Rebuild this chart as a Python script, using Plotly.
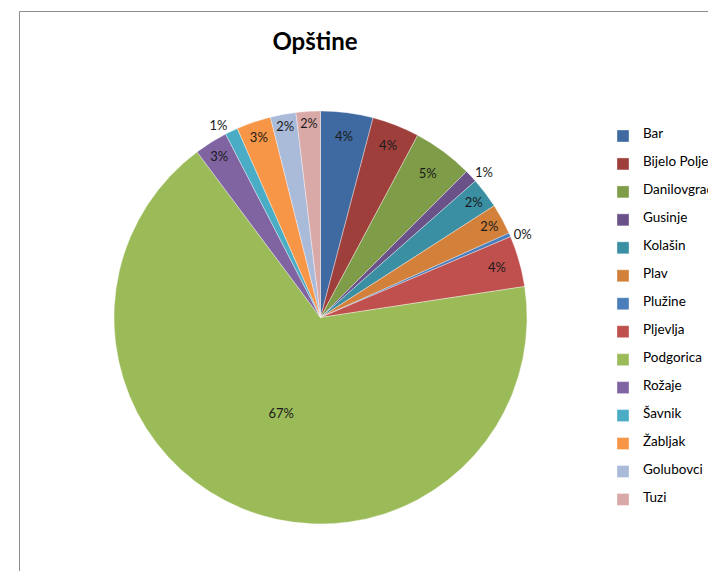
import plotly.graph_objects as go

labels = ["Bar", "Bijelo Polje", "Danilovgrad", "Gusinje", "Kolašin", "Plav", "Plužine",
          "Pljevlja", "Podgorica", "Rožaje", "Šavnik", "Žabljak", "Golubovci", "Tuzi"]
values = [4.1, 3.7, 4.7, 1.0, 2.4, 2.4, 0.3, 4.0, 67.2, 2.6, 1.0, 2.7, 2.0, 1.9]
colors = ["#3E6AA1", "#9E3F3C", "#7F9C48", "#6A5289", "#3A8FA3", "#D3803A", "#4A7EBB",
          "#C0504D", "#9BBB59", "#8064A2", "#4BACC6", "#F79646", "#A9BBD9", "#D9A9A8"]
positions = ["inside", "inside", "inside", "outside", "inside", "inside", "outside",
             "inside", "inside", "inside", "outside", "inside", "inside", "inside"]

W, H = 708, 571
cx, cy, R = 320.5, 317.5, 206.5

fig = go.Figure(go.Pie(
    labels=[f"<br><span style='font-size:13.5px'>{l}</span><br>" for l in labels],
    values=values,
    sort=False,
    direction="clockwise",
    rotation=0,
    marker=dict(colors=colors, line=dict(color="rgba(255,255,255,0.6)", width=0.6)),
    texttemplate="%{percent:.0%}",
    textposition=positions,
    insidetextorientation="horizontal",
    textfont=dict(family="Lato", size=13, color="#1a1a1a"),
    hoverinfo="skip",
    domain=dict(x=[(cx - R) / W, (cx + R) / W], y=[(H - cy - R) / H, (H - cy + R) / H]),
))

fig.update_layout(
    width=W, height=H,
    margin=dict(l=0, r=0, t=0, b=0, autoexpand=False),
    paper_bgcolor="white",
    title=dict(text="<b>Opštine</b>", x=315 / W, xanchor="center", y=1 - 42 / H, yanchor="middle",
               font=dict(family="Lato", size=24, color="black")),
    showlegend=True,
    legend=dict(x=603 / W, xanchor="left", y=1 - 117 / H, yanchor="top",
                font=dict(family="Lato", size=6.4, color="black"),
                bgcolor="rgba(0,0,0,0)"),
    shapes=[
        dict(type="line", xref="paper", yref="paper", x0=19.5 / W, x1=1, y0=1 - 11.5 / H, y1=1 - 11.5 / H,
             line=dict(color="#8c8c8c", width=1)),
        dict(type="line", xref="paper", yref="paper", x0=19.5 / W, x1=19.5 / W, y0=0, y1=1 - 11.5 / H,
             line=dict(color="#8c8c8c", width=1)),
    ],
)

fig.write_html("out.html", config={"displayModeBar": False},
               post_script="document.body.style.margin='0';document.body.style.overflow='hidden';")
